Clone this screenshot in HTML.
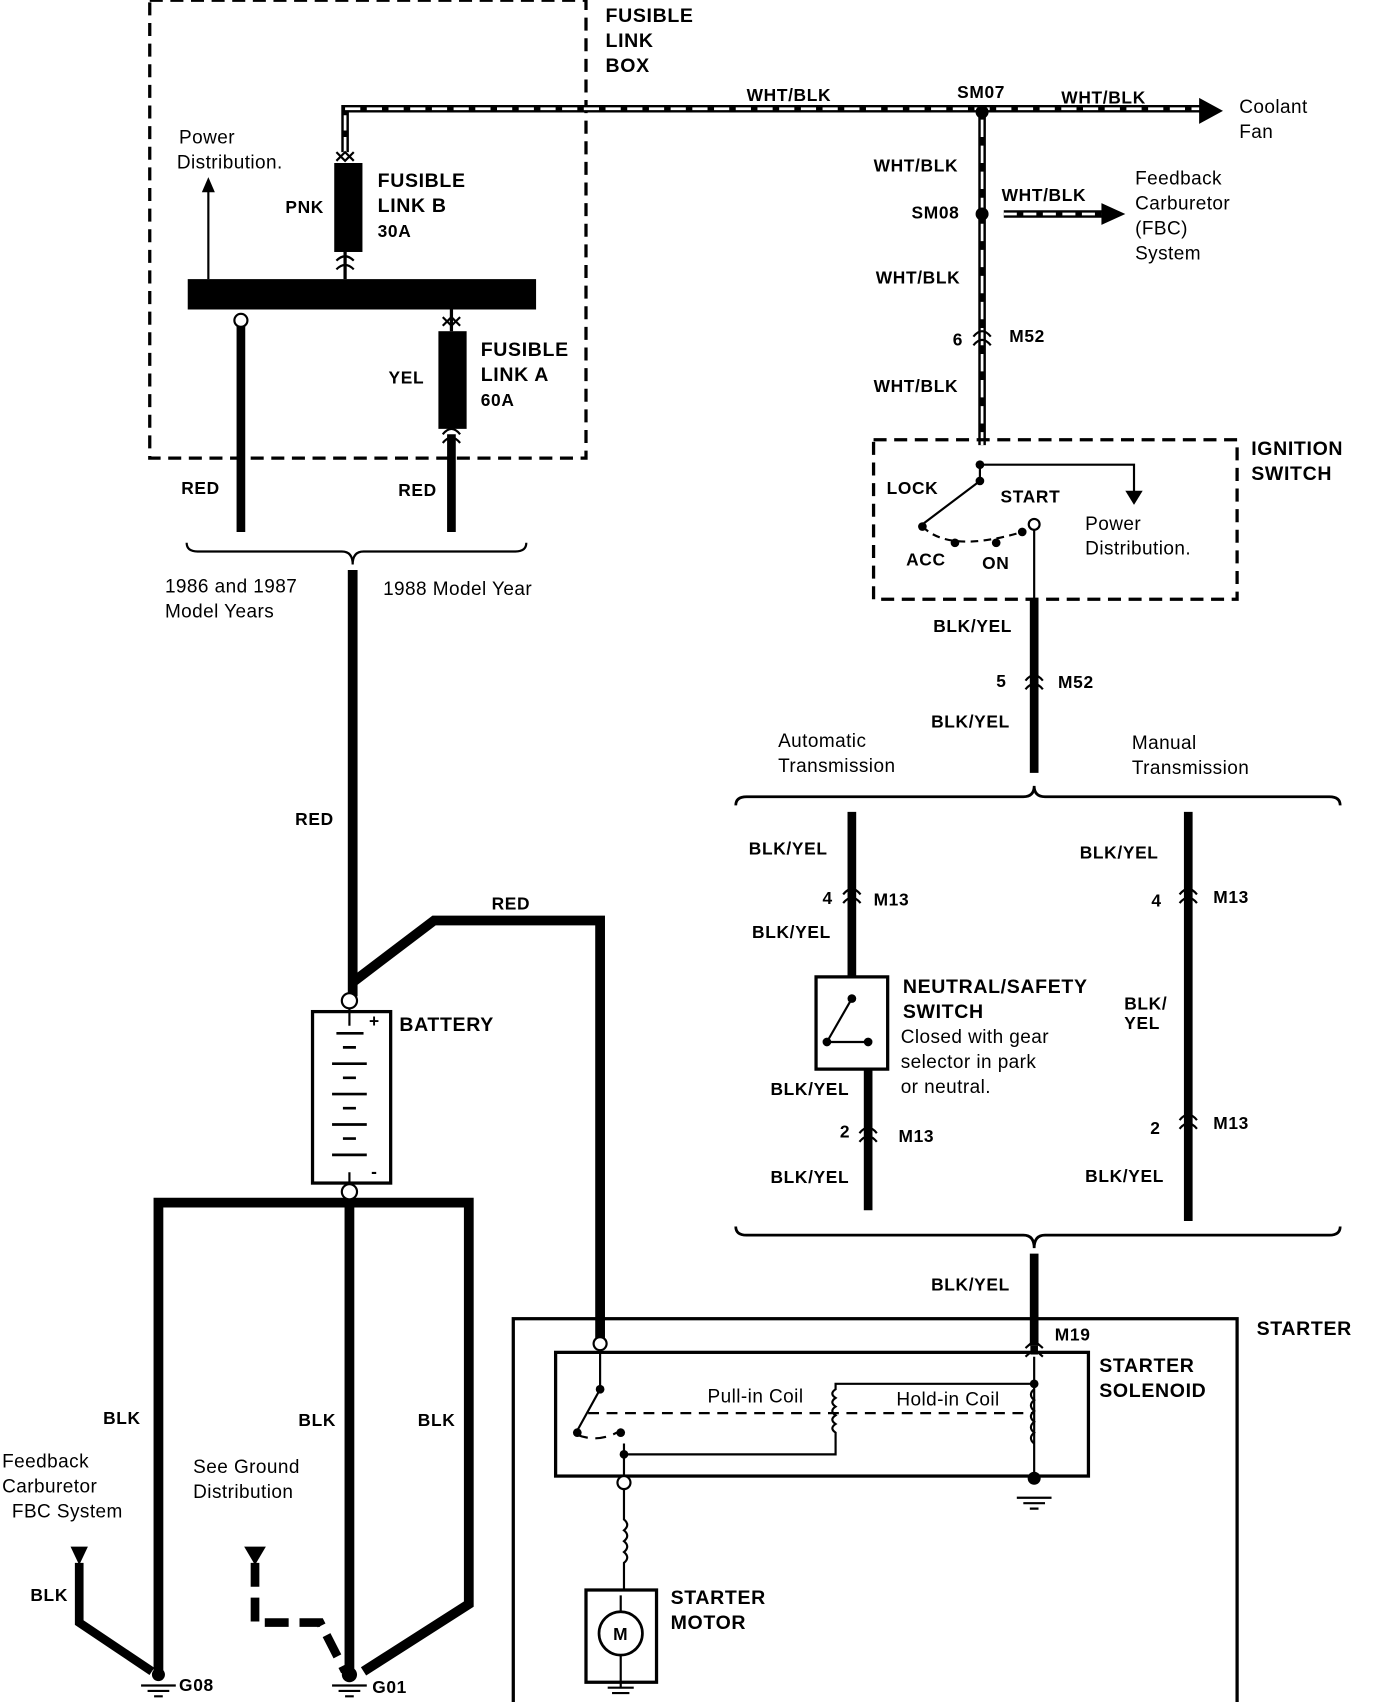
<!DOCTYPE html>
<html><head><meta charset="utf-8"><style>
html,body{margin:0;padding:0;background:#fff;width:1376px;height:1702px;overflow:hidden}
svg{display:block}
text{font-family:"Liberation Sans",sans-serif;fill:#000}
.b{font-weight:bold;font-size:16px;letter-spacing:0.6px}
.n{font-size:17.5px;letter-spacing:0.4px}
.L{font-weight:bold;font-size:18px;letter-spacing:0.6px}
</style></head><body>
<svg width="1376" height="1702" viewBox="0 0 1268 1568" xmlns="http://www.w3.org/2000/svg">
<g fill="none" stroke="#000">
<rect x="138" y="0" width="402" height="422" stroke-width="3" stroke-dasharray="12,7"/>
<path d="M318,140 V100 H1110" stroke-width="7"/>
<path d="M318,140 V100 H1110" stroke="#fff" stroke-width="2.5" stroke-dasharray="14,6"/>
<path d="M905,100 V410" stroke-width="7"/>
<path d="M905,110 V410" stroke="#fff" stroke-width="2.5" stroke-dasharray="16,8"/>
<path d="M925,197 H1020" stroke-width="7"/>
<path d="M925,197 H1020" stroke="#fff" stroke-width="2.5" stroke-dasharray="12,6"/>
<path d="M310,140 L318,148 L326,140 M310,148 L318,140 L326,148" stroke-width="2"/>
<path d="M318,232 V257" stroke-width="3"/>
<path d="M310,240 q8,-8 16,0 M310,248 q8,-8 16,0" stroke-width="2"/>
<path d="M192,257 V175" stroke-width="2"/>
<path d="M222,300 V490" stroke-width="8"/>
<path d="M416,400 V490" stroke-width="8"/>
<path d="M416,285 V305" stroke-width="3"/>
<path d="M408,292 L416,300 L424,292 M408,300 L416,292 L424,300" stroke-width="2"/>
<path d="M408,408 q8,-10 16,0 M408,400 q8,-10 16,0" stroke-width="2"/>
<path d="M172,500 q0,8 10,8 H315 q10,0 10,12 q0,-12 10,-12 H475 q10,0 10,-8" stroke-width="2"/>
<path d="M325,525 V918" stroke-width="9"/>
<path d="M325,905 L400,848 H553 V1235" stroke-width="9"/>
<rect x="288" y="932" width="72" height="158" stroke-width="3"/>
<path d="M322,927 V945 M322,1080 V1092" stroke-width="2"/>
<path d="M310,952 H335 M316,965 H328 M306,980 H338 M316,993 H328 M306,1008 H338 M316,1021 H328 M306,1036 H338 M316,1049 H328 M306,1064 H338" stroke-width="2.5"/>
<path d="M322,1103 V1540" stroke-width="9"/>
<path d="M146,1540 V1108 H432 V1478 L335,1540" stroke-width="9"/>
<path d="M73,1440 V1495 L140,1540" stroke-width="8"/>
<path d="M235,1440 V1495 H295 L318,1540" stroke-width="8" stroke-dasharray="22,10"/>
<path d="M130,1553 H162 M136,1558 H156 M142,1563 H150" stroke-width="2"/>
<path d="M306,1553 H338 M312,1558 H332 M318,1563 H326" stroke-width="2"/>
<rect x="473" y="1215" width="667" height="360" stroke-width="3"/>
<rect x="512" y="1246" width="491" height="114" stroke-width="3"/>
<path d="M553,1243 V1280 L532,1318 M575,1330 V1360 M575,1340 H770 V1320 q-6,-4 0,-8 q-6,-4 0,-8 q-6,-4 0,-8 q-6,-4 0,-8 q-6,-4 0,-8 V1275 H953 M953,1275 V1340 M953,1250 V1275 M953,1340 V1360" stroke-width="2"/>
<path d="M953,1280 q-6,5 0,10 q-6,5 0,10 q-6,5 0,10 q-6,5 0,10 q-6,5 0,10" stroke-width="2"/>
<path d="M542,1302 H953 M532,1322 Q552,1330 572,1318" stroke-width="2" stroke-dasharray="10,7"/>
<path d="M575,1372 V1400 q6,5 0,10 q6,5 0,10 q6,5 0,10 q6,5 0,10 V1465" stroke-width="2"/>
<path d="M953,1240 V1248" stroke-width="7"/>
<path d="M945,1250 L953,1243 L961,1250 M945,1242 L953,1235 L961,1242" stroke-width="2"/>
<path d="M937,1380 H969 M943,1385 H963 M949,1390 H957" stroke-width="2"/>
<rect x="540" y="1465" width="65" height="85" stroke-width="3"/>
<circle cx="572" cy="1505" r="20" stroke-width="2.5"/>
<path d="M572,1485 V1470 M572,1525 V1555 M560,1555 H584 M564,1560 H580" stroke-width="2"/>
<path d="M897,318 q8,-10 16,0 M897,310 q8,-10 16,0" stroke-width="2"/>
<rect x="805" y="405" width="335" height="147" stroke-width="3" stroke-dasharray="12,7"/>
<path d="M903,428 H1045 V455 M903,428 V443 L850,483" stroke-width="2"/>
<path d="M850,485 Q875,510 942,490" stroke-width="2" stroke-dasharray="7,5"/>
<path d="M953,483 V552" stroke-width="2"/>
<path d="M953,552 V712" stroke-width="8"/>
<path d="M945,635 q8,-10 16,0 M945,627 q8,-10 16,0" stroke-width="2"/>
<path d="M678,742 q0,-8 10,-8 H943 q10,0 10,-10 q0,10 10,10 H1225 q10,0 10,8" stroke-width="2.5"/>
<path d="M678,1130 q0,8 10,8 H943 q10,0 10,12 q0,-12 10,-12 H1225 q10,0 10,-8" stroke-width="2.5"/>
<path d="M785,748 V900" stroke-width="8"/>
<path d="M777,832 q8,-10 16,0 M777,824 q8,-10 16,0" stroke-width="2"/>
<rect x="752" y="900" width="66" height="85" stroke-width="3"/>
<path d="M785,920 L762,960 M762,960 H800" stroke-width="2"/>
<path d="M800,985 V1115" stroke-width="8"/>
<path d="M792,1052 q8,-10 16,0 M792,1044 q8,-10 16,0" stroke-width="2"/>
<path d="M1095,748 V1125" stroke-width="8"/>
<path d="M1087,832 q8,-10 16,0 M1087,824 q8,-10 16,0" stroke-width="2"/>
<path d="M1087,1040 q8,-10 16,0 M1087,1032 q8,-10 16,0" stroke-width="2"/>
<path d="M953,1155 V1240" stroke-width="8"/>
</g>
<g fill="#000">
<rect x="308" y="150" width="26" height="82"/>
<rect x="173" y="257" width="321" height="28"/>
<rect x="404" y="305" width="26" height="90"/>
<polygon points="186,177 192,163 198,177"/>
<polygon points="1105,90 1127,102 1105,114"/>
<polygon points="1015,187 1037,197 1015,207"/>
<polygon points="1037,452 1045,465 1053,452"/>
<circle cx="905" cy="103" r="6"/><circle cx="905" cy="197" r="6"/>
<circle cx="903" cy="428" r="4"/><circle cx="903" cy="443" r="4"/><circle cx="850" cy="485" r="4"/>
<circle cx="880" cy="500" r="4"/><circle cx="918" cy="500" r="4"/><circle cx="942" cy="490" r="4"/>
<circle cx="785" cy="920" r="4"/><circle cx="762" cy="960" r="4"/><circle cx="800" cy="960" r="4"/>
<circle cx="553" cy="1280" r="4"/><circle cx="532" cy="1320" r="4"/><circle cx="572" cy="1320" r="4"/><circle cx="575" cy="1340" r="4"/>
<circle cx="953" cy="1275" r="4"/><circle cx="953" cy="1362" r="6"/>
<polygon points="65,1425 81,1425 73,1442"/>
<polygon points="225,1425 245,1425 235,1442"/>
<circle cx="146" cy="1543" r="6"/><circle cx="322" cy="1543" r="7"/>
</g>
<g fill="#fff" stroke="#000" stroke-width="2">
<circle cx="222" cy="295" r="6"/><circle cx="322" cy="922" r="7"/><circle cx="322" cy="1098" r="7"/>
<circle cx="953" cy="483" r="5"/><circle cx="553" cy="1238" r="6"/><circle cx="575" cy="1366" r="6"/>
</g>
<g>
<text class="L" x="558" y="20">FUSIBLE</text><text class="L" x="558" y="43">LINK</text><text class="L" x="558" y="66">BOX</text>
<text class="n" x="165" y="132">Power</text><text class="n" x="163" y="155">Distribution.</text>
<text class="L" x="348" y="172">FUSIBLE</text><text class="L" x="348" y="195">LINK B</text><text class="b" x="348" y="218" font-size="14">30A</text>
<text class="b" x="263" y="196">PNK</text>
<text class="L" x="443" y="328">FUSIBLE</text><text class="L" x="443" y="351">LINK A</text><text class="b" x="443" y="374" font-size="14">60A</text>
<text class="b" x="358" y="353">YEL</text>
<text class="b" x="167" y="455">RED</text><text class="b" x="367" y="457">RED</text>
<text class="n" x="152" y="546">1986 and 1987</text><text class="n" x="152" y="569">Model Years</text>
<text class="n" x="353" y="548">1988 Model Year</text>
<text class="b" x="272" y="760">RED</text><text class="b" x="453" y="838">RED</text>
<text class="b" x="340" y="946">+</text><text class="b" x="342" y="1085">-</text>
<text class="L" x="368" y="950">BATTERY</text>
<text class="b" x="95" y="1312">BLK</text><text class="b" x="275" y="1314">BLK</text><text class="b" x="385" y="1314">BLK</text>
<text class="b" x="28" y="1475">BLK</text>
<text class="n" x="2" y="1352">Feedback</text><text class="n" x="2" y="1375">Carburetor</text><text class="n" x="11" y="1398">FBC System</text>
<text class="n" x="178" y="1357">See Ground</text><text class="n" x="178" y="1380">Distribution</text>
<text class="b" x="165" y="1558" font-size="14">G08</text><text class="b" x="343" y="1560" font-size="14">G01</text>
<text class="L" x="618" y="1478">STARTER</text><text class="L" x="618" y="1501">MOTOR</text>
<text class="b" x="565" y="1511" font-size="12">M</text>
<text class="n" x="652" y="1292">Pull-in Coil</text><text class="n" x="826" y="1295">Hold-in Coil</text>
<text class="L" x="1013" y="1264">STARTER</text><text class="L" x="1013" y="1287">SOLENOID</text>
<text class="L" x="1158" y="1230">STARTER</text>
<text class="b" x="972" y="1235" font-size="15">M19</text>
<text class="b" x="858" y="1189">BLK/YEL</text>
<text class="b" x="688" y="93">WHT/BLK</text><text class="b" x="978" y="95">WHT/BLK</text>
<text class="b" x="882" y="90" font-size="15">SM07</text>
<text class="n" x="1142" y="104">Coolant</text><text class="n" x="1142" y="127">Fan</text>
<text class="b" x="805" y="158">WHT/BLK</text><text class="b" x="923" y="185">WHT/BLK</text>
<text class="b" x="840" y="201" font-size="15">SM08</text>
<text class="n" x="1046" y="170">Feedback</text><text class="n" x="1046" y="193">Carburetor</text><text class="n" x="1046" y="216">(FBC)</text><text class="n" x="1046" y="239">System</text>
<text class="b" x="807" y="261">WHT/BLK</text>
<text class="b" x="878" y="318" font-size="14">6</text><text class="b" x="930" y="315" font-size="15">M52</text>
<text class="b" x="805" y="361">WHT/BLK</text>
<text class="L" x="1153" y="419">IGNITION</text><text class="L" x="1153" y="442">SWITCH</text>
<text class="b" x="817" y="455">LOCK</text><text class="b" x="922" y="463">START</text>
<text class="n" x="1000" y="488">Power</text><text class="n" x="1000" y="511">Distribution.</text>
<text class="b" x="835" y="521">ACC</text><text class="b" x="905" y="524">ON</text>
<text class="b" x="860" y="582">BLK/YEL</text>
<text class="b" x="918" y="633" font-size="14">5</text><text class="b" x="975" y="634" font-size="15">M52</text>
<text class="b" x="858" y="670">BLK/YEL</text>
<text class="n" x="717" y="688">Automatic</text><text class="n" x="717" y="711">Transmission</text>
<text class="n" x="1043" y="690">Manual</text><text class="n" x="1043" y="713">Transmission</text>
<text class="b" x="690" y="787">BLK/YEL</text><text class="b" x="995" y="791">BLK/YEL</text>
<text class="b" x="758" y="833" font-size="14">4</text><text class="b" x="805" y="834" font-size="15">M13</text>
<text class="b" x="1061" y="835" font-size="14">4</text><text class="b" x="1118" y="832" font-size="15">M13</text>
<text class="b" x="693" y="864">BLK/YEL</text>
<text class="L" x="832" y="915">NEUTRAL/SAFETY</text><text class="L" x="832" y="938">SWITCH</text>
<text class="n" x="830" y="961">Closed with gear</text><text class="n" x="830" y="984">selector in park</text><text class="n" x="830" y="1007">or neutral.</text>
<text class="b" x="1036" y="930">BLK/</text><text class="b" x="1036" y="948">YEL</text>
<text class="b" x="710" y="1009">BLK/YEL</text>
<text class="b" x="774" y="1048" font-size="14">2</text><text class="b" x="828" y="1052" font-size="15">M13</text>
<text class="b" x="1060" y="1045" font-size="14">2</text><text class="b" x="1118" y="1040" font-size="15">M13</text>
<text class="b" x="710" y="1090">BLK/YEL</text><text class="b" x="1000" y="1089">BLK/YEL</text>
</g>
</svg>
</body></html>
